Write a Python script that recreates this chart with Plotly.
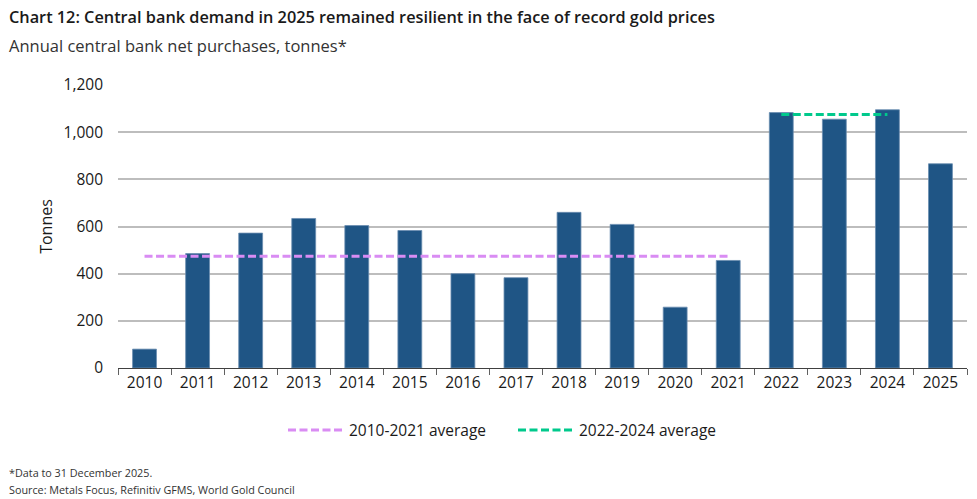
import plotly.graph_objects as go

years = [str(y) for y in range(2010, 2026)]
purchases = [80, 485, 572, 634, 604, 583, 400, 383, 660, 609, 258, 456, 1083, 1055, 1095, 866]
avg1_years = ["2010", "2021"]
avg1_vals = [474, 474]
avg2_years = ["2022", "2024"]
avg2_vals = [1075, 1075]
y_ticks = [0, 200, 400, 600, 800, 1000, 1200]
legend_labels = ["2010-2021 average", "2022-2024 average"]
legend_colors = ["#D98CF3", "#00C98C"]

W, H = 977, 499
ml, mr, mt, mb = 118, 10, 85, 131
pw, ph = W - ml - mr, H - mt - mb
font = "Open Sans"
DASH = "8px,3.5px"


def px_x(px):
    return (px - ml) / pw


def px_y(py):
    return (H - mb - py) / ph


fig = go.Figure()
fig.add_trace(go.Bar(
    x=years, y=purchases, width=0.45,
    marker=dict(color="#1F5585", line=dict(color="#6A8DB0", width=0.8)),
    showlegend=False,
))
fig.add_trace(go.Scatter(
    x=avg1_years, y=avg1_vals, mode="lines", name=legend_labels[0],
    line=dict(color=legend_colors[0], width=3, dash=DASH), showlegend=False,
))
fig.add_trace(go.Scatter(
    x=avg2_years, y=avg2_vals, mode="lines", name=legend_labels[1],
    line=dict(color=legend_colors[1], width=3, dash=DASH), showlegend=False,
))

fig.update_layout(
    width=W, height=H,
    margin=dict(l=ml, r=mr, t=mt, b=mb),
    plot_bgcolor="white", paper_bgcolor="white",
    font=dict(family=font, color="#1A1A1A", size=15),
    xaxis=dict(
        type="category", showgrid=False, showline=True, linecolor="#404040", linewidth=1,
        ticks="outside", tickson="boundaries", ticklen=6, tickcolor="#606060",
        tickfont=dict(size=15.5, color="#1A1A1A"),
    ),
    yaxis=dict(
        range=[0, 1200], tickvals=y_ticks, tickformat=",d",
        showgrid=True, gridcolor="#BDBDBD", gridwidth=1.6, zeroline=False,
        showline=False, ticks="", ticklabelstandoff=14,
        tickfont=dict(size=15.5, color="#1A1A1A"),
        title=dict(text="Tonnes", font=dict(size=16, color="#1A1A1A"), standoff=6),
    ),
    showlegend=False,
)

# manual legend
leg_y = 430
leg_items = [(288, 342, 347), (518, 572, 577)]
for (x0, x1, tx), lab, col in zip(leg_items, legend_labels, legend_colors):
    fig.add_shape(type="line", xref="paper", yref="paper",
                  x0=px_x(x0), x1=px_x(x1), y0=px_y(leg_y), y1=px_y(leg_y),
                  line=dict(color=col, width=3, dash=DASH))
    fig.add_annotation(text=lab, xref="paper", yref="paper", x=px_x(tx), y=px_y(leg_y),
                       xanchor="left", yanchor="middle", showarrow=False,
                       font=dict(size=15.5, color="#1A1A1A", family=font))

texts = [
    ("Chart 12: Central bank demand in 2025 remained resilient in the face of record gold prices",
     17, 16.3, "#1A1A1A", 600),
    ("Annual central bank net purchases, tonnes*", 46, 16.5, "#333333", 400),
    ("*Data to 31 December 2025.", 472, 10.8, "#333333", 400),
    ("Source: Metals Focus, Refinitiv GFMS, World Gold Council", 489, 10.8, "#333333", 400),
]
for txt, py, size, col, wt in texts:
    fig.add_annotation(text=txt, xref="paper", yref="paper", x=px_x(7), y=px_y(py),
                       xanchor="left", yanchor="middle", showarrow=False,
                       font=dict(size=size, color=col, family=font, weight=wt))

fig.write_html("out.html", config={"displayModeBar": False},
               post_script="document.body.style.margin='0';document.body.style.overflow='hidden';")
